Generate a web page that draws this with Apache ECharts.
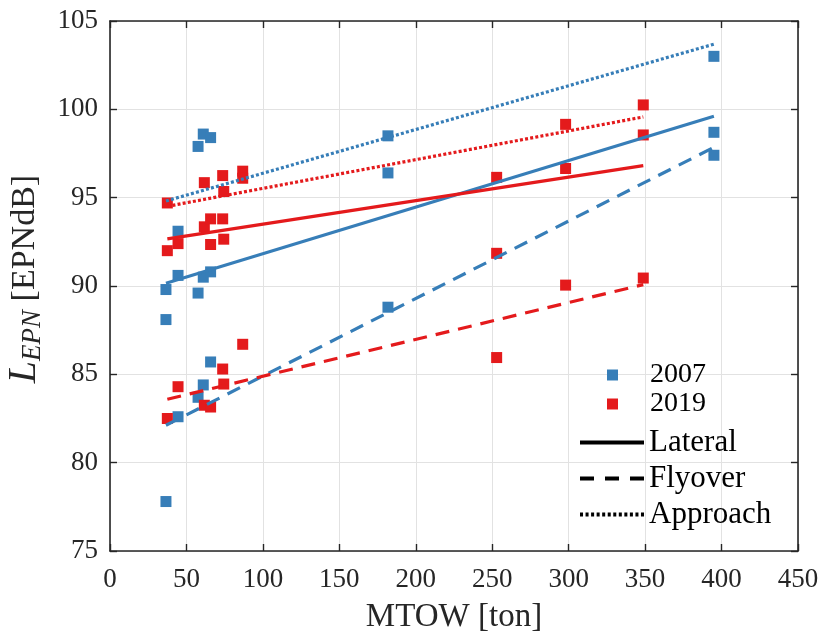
<!DOCTYPE html>
<html>
<head>
<meta charset="utf-8">
<script src="https://cdn.jsdelivr.net/npm/echarts@6/dist/echarts.min.js"></script>
<style>
  html, body { margin: 0; padding: 0; background: #fff; }
  #chart { width: 822px; height: 633px; }
</style>
</head>
<body>
<div id="chart"></div>
<script>
// Measured EPNL values per aircraft type (lateral, flyover, approach), two certification years
const mtow2007 = [36.6, 36.6, 36.6, 44.5, 44.5, 44.5, 57.6, 57.6, 57.6, 61, 61, 61,
                  65.8, 65.8, 65.8, 181.8, 181.8, 181.8, 395, 395, 395];
const epnl2007 = [89.8, 88.1, 77.8, 93.1, 90.6, 82.6, 97.9, 89.6, 83.7, 98.6, 90.5, 84.4,
                  98.4, 90.8, 85.7, 98.5, 96.4, 88.8, 103.0, 98.7, 97.4];

const mtow2019 = [37.5, 37.5, 37.5, 44.5, 44.5, 61.7, 61.7, 61.7, 65.8, 65.8, 65.8,
                  73.7, 73.7, 73.7, 74.4, 74.4, 74.4, 86.8, 86.8, 86.8,
                  252.9, 252.9, 252.9, 298, 298, 298, 348.8, 348.8, 348.8];
const epnl2019 = [94.7, 92.0, 82.5, 92.4, 84.3, 95.85, 93.35, 83.25, 93.8, 92.35, 83.15,
                  96.25, 93.8, 85.3, 95.35, 92.65, 84.45, 96.5, 96.1, 86.7,
                  96.15, 91.85, 85.95, 99.15, 96.65, 90.05, 100.25, 98.55, 90.45];

// Linear trend lines: MTOW range and fitted level at both ends
const fitRange2007 = [36.6, 395];
const lateralFit2007 = [90.16, 99.61];
const flyoverFit2007 = [82.12, 97.85];
const approachFit2007 = [94.81, 103.69];

const fitRange2019 = [37.5, 348.8];
const lateralFit2019 = [92.67, 96.81];
const flyoverFit2019 = [83.59, 90.08];
const approachFit2019 = [94.51, 99.57];

const yearNames = ['2007', '2019'];
const procedureNames = ['Lateral', 'Flyover', 'Approach'];

const BLUE = '#377eb8';
const RED = '#e41a1c';
const INK = '#262626';
const FONT = 'Liberation Serif';
const dashes = { Lateral: 'solid', Flyover: [14, 9], Approach: [3, 2.2] };

// Legend keys for the procedures, drawn as filled bars (64 x 4)
function dottedKey() {
  let d = 'path://';
  for (let i = 0; i < 12; i++) {
    const x = i * 5.5;
    d += 'M' + x + ',0H' + (x + 3) + 'V4H' + x + 'Z ';
  }
  return d;
}
const procedureIcons = {
  Lateral: 'path://M0,0H64V4H0Z',
  Flyover: 'path://M0,0H14V4H0Z M25,0H39V4H25Z M50,0H64V4H50Z',
  Approach: dottedKey()
};

function pairs(xs, ys) {
  return xs.map((x, i) => [x, ys[i]]);
}

function fitSeries(range, levels, color, procedure) {
  return {
    type: 'line',
    data: pairs(range, levels),
    symbol: 'none',
    silent: true,
    lineStyle: { color: color, width: 3.2, type: dashes[procedure], cap: 'butt' }
  };
}

const axisLine = { show: true, onZero: false, lineStyle: { color: INK, width: 1.6 } };
const axisTick = { show: true, inside: true, length: 7, lineStyle: { color: INK, width: 1.4 } };
const tickFont = { fontFamily: FONT, fontSize: 27, color: INK };
const gridLine = { show: true, lineStyle: { color: '#e2e2e2', width: 1 } };

const chart = echarts.init(document.getElementById('chart'), null, { renderer: 'canvas' });

chart.setOption({
  animation: false,
  backgroundColor: '#fff',
  grid: { left: 110, top: 21, width: 688, height: 530, containLabel: false, outerBoundsMode: 'none' },
  xAxis: [
    {
      type: 'value', min: 0, max: 450, interval: 50, position: 'bottom',
      axisLine: axisLine, axisTick: axisTick,
      axisLabel: Object.assign({ margin: 15 }, tickFont),
      splitLine: gridLine,
      name: 'MTOW [ton]', nameLocation: 'middle', nameGap: 50,
      nameTextStyle: { fontFamily: FONT, fontSize: 33, color: INK }
    },
    {
      type: 'value', min: 0, max: 450, interval: 50, position: 'top',
      axisLine: axisLine, axisTick: axisTick,
      axisLabel: { show: false }, splitLine: { show: false }
    }
  ],
  yAxis: [
    {
      type: 'value', min: 75, max: 105, interval: 5, position: 'left',
      axisLine: axisLine, axisTick: axisTick,
      axisLabel: Object.assign({ margin: 12 }, tickFont),
      splitLine: gridLine,
      name: '{L|L}{s|EPN}{t| [EPNdB]}', nameLocation: 'middle', nameGap: 62, nameRotate: 90,
      nameTextStyle: {
        color: INK,
        padding: [0, 0, 0, 14],
        rich: {
          L: { fontFamily: FONT, fontSize: 40, fontStyle: 'italic', color: INK },
          s: { fontFamily: FONT, fontSize: 27, fontStyle: 'italic', color: INK, padding: [17, 0, 0, 0] },
          t: { fontFamily: FONT, fontSize: 34, color: INK }
        }
      }
    },
    {
      type: 'value', min: 75, max: 105, interval: 5, position: 'right',
      axisLine: axisLine, axisTick: axisTick,
      axisLabel: { show: false }, splitLine: { show: false }
    }
  ],
  legend: [
    {
      data: yearNames,
      orient: 'vertical', left: 607, top: 361, padding: 0,
      icon: 'rect', itemWidth: 11, itemHeight: 11, itemGap: 1,
      selectedMode: false,
      textStyle: { fontFamily: FONT, fontSize: 28, color: '#000', padding: [0, 0, 0, 27] }
    },
    {
      data: procedureNames.map(p => ({ name: p, icon: procedureIcons[p] })),
      orient: 'vertical', left: 580, top: 427, padding: 0,
      itemWidth: 64, itemHeight: 14, itemGap: 5, symbolKeepAspect: true,
      selectedMode: false,
      textStyle: { fontFamily: FONT, fontSize: 31, color: '#000' }
    }
  ],
  series: [
    {
      name: yearNames[0], type: 'scatter', data: pairs(mtow2007, epnl2007),
      symbol: 'rect', symbolSize: 11, itemStyle: { color: BLUE, opacity: 1 }
    },
    {
      name: yearNames[1], type: 'scatter', data: pairs(mtow2019, epnl2019),
      symbol: 'rect', symbolSize: 11, itemStyle: { color: RED, opacity: 1 }
    },
    fitSeries(fitRange2007, lateralFit2007, BLUE, 'Lateral'),
    fitSeries(fitRange2007, flyoverFit2007, BLUE, 'Flyover'),
    fitSeries(fitRange2007, approachFit2007, BLUE, 'Approach'),
    fitSeries(fitRange2019, lateralFit2019, RED, 'Lateral'),
    fitSeries(fitRange2019, flyoverFit2019, RED, 'Flyover'),
    fitSeries(fitRange2019, approachFit2019, RED, 'Approach'),
    // empty series that only carry the procedure legend entries
    ...procedureNames.map(p => ({
      name: p, type: 'line', data: [], symbol: 'none',
      itemStyle: { color: '#000' },
      lineStyle: { color: '#000', width: 4, type: dashes[p] }
    }))
  ]
});
</script>
</body>
</html>
